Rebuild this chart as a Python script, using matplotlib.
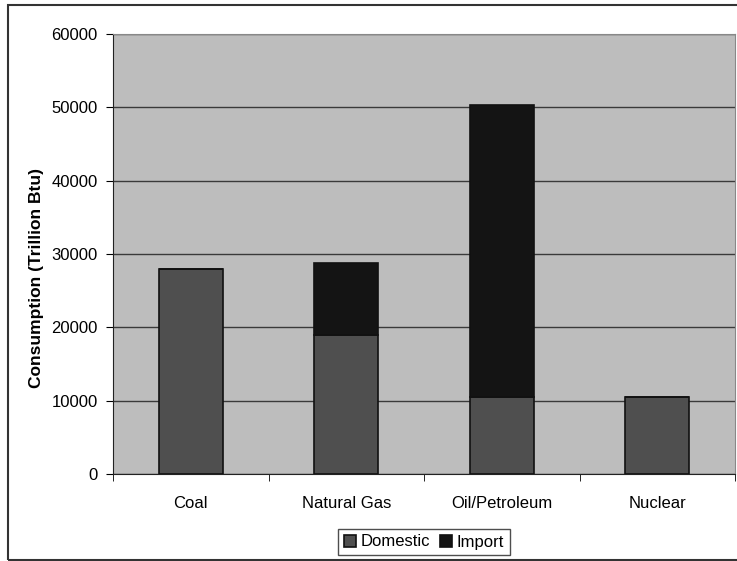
import matplotlib.pyplot as plt
import numpy as np

# Data
categories = ['Coal', 'Natural Gas', 'Oil/Petroleum', 'Nuclear']
domestic = [28000, 19000, 10500, 10500]
imports = [0, 9800, 39800, 0]

plt.rcParams['font.family'] = ['Liberation Sans', 'DejaVu Sans']

fig = plt.figure(figsize=(7.37, 5.61), dpi=100)
# outer chart border
fig.patches.append(plt.Rectangle((8 / 737, 0.002), 1.0, 1 - 5 / 561 - 0.002,
                                 transform=fig.transFigure, fill=False,
                                 edgecolor='#333333', linewidth=1.5))

ax = fig.add_axes([113 / 737, 87 / 561, 622 / 737, 440 / 561])
ax.set_facecolor('#bdbdbd')

x = np.arange(len(categories))
ax.bar(x, domestic, width=0.41, color='#4f4f4f', edgecolor='#111111',
       linewidth=1.2, label='Domestic', zorder=3)
ax.bar(x, imports, width=0.41, bottom=domestic, color='#141414',
       edgecolor='#111111', linewidth=1.2, label='Import', zorder=3)

ax.set_xlim(-0.5, len(categories) - 0.5)
ax.set_ylim(0, 60000)
ax.set_yticks(range(0, 60001, 10000))
ax.set_xticks(x)
ax.set_xticklabels(categories)
ax.set_xticks(np.arange(-0.5, len(categories)), minor=True)
ax.tick_params(axis='x', which='major', length=0, pad=16, labelsize=12)
ax.tick_params(axis='x', which='minor', length=5, direction='out')
ax.tick_params(axis='y', length=5, direction='out', labelsize=12, pad=6)
ax.grid(axis='y', color='#3a3a3a', linewidth=1.0, zorder=1)
ax.set_axisbelow(True)

for side in ['top', 'right']:
    ax.spines[side].set_color('#888888')
ax.spines['left'].set_color('#222222')
ax.spines['bottom'].set_color('#222222')

ax.set_ylabel('Consumption (Trillion Btu)', fontsize=12.5, fontweight='bold')
ax.yaxis.set_label_coords(-0.111, 0.445)

leg = ax.legend(loc='center', bbox_to_anchor=(424 / 737, 19 / 561),
                bbox_transform=fig.transFigure, ncol=2, frameon=True,
                fancybox=False, edgecolor='#222222', fontsize=12,
                handlelength=0.7, handleheight=0.7, handletextpad=0.3,
                columnspacing=0.6, borderpad=0.35)
leg.get_frame().set_linewidth(1.0)

plt.savefig('out.png', dpi=100)
